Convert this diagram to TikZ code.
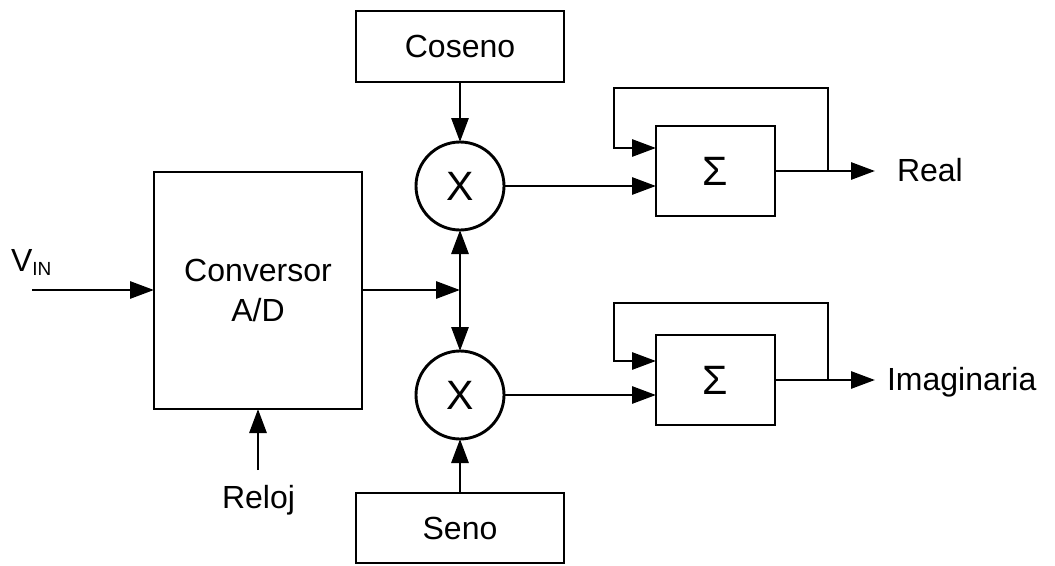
\documentclass[tikz,border=0pt]{standalone}
\usepackage{fontspec}
\setmainfont{Liberation Sans}
\usetikzlibrary{arrows.meta}
\begin{document}
\begin{tikzpicture}[x=1pt, y=-1pt,
  every node/.style={font=\fontsize{32}{40}\selectfont, inner sep=0pt, outer sep=0pt},
  big/.style={font=\fontsize{41}{48}\selectfont},
  blk/.style={draw, line width=2.9pt, rectangle},
  mult/.style={draw, line width=2.9pt, circle, minimum size=88pt, big},
  wire/.style={line width=2.9pt},
  sig/.style={wire, -{Triangle[length=24pt, width=17pt]}},
  dsig/.style={wire, {Triangle[length=24pt, width=17pt]}-{Triangle[length=24pt, width=17pt]}},
  lbl/.style={anchor=base west}]
  \useasboundingbox (0,0) rectangle (1055,565);

  % blocks
  \node[blk, minimum width=208pt, minimum height=71pt] (cos) at (460,46.5) {Coseno};
  \node[blk, minimum width=208pt, minimum height=70pt] (sin) at (460,528) {Seno};
  \node[blk, minimum width=208pt, minimum height=237pt, align=center] (adc) at (258,290.5) {Conversor\\A/D};
  \node[mult] (m1) at (460,186) {X};
  \node[mult] (m2) at (460,395) {X};
  \node[blk, big, minimum width=119pt, minimum height=90pt] (s1) at (715.5,171) {Σ};
  \node[blk, big, minimum width=119pt, minimum height=90pt] (s2) at (715.5,380) {Σ};

  % labels
  \node[lbl] (vin) at (11,271) {V\raisebox{-4pt}{\fontsize{19}{22}\selectfont IN}};
  \node[lbl] (reloj) at (222,508) {Reloj};
  \node[lbl] (real) at (897,181) {Real};
  \node[lbl] (imag) at (887,390) {Imaginaria};

  % free ends and junctions
  \coordinate (vinA) at (32,290);
  \coordinate (rel) at (258,470);
  \coordinate (j) at (460,290);
  \coordinate (o1) at (875,171);
  \coordinate (o2) at (875,380);
  \coordinate (t1) at (828,171);
  \coordinate (t2) at (828,380);

  % input side
  \draw[sig] (vinA) -- (vinA -| adc.west);
  \draw[sig] (rel) -- (adc.south);
  \draw[sig] (adc.east |- j) -- (j);
  \draw[dsig] (m1.south) -- (m2.north);
  \draw[sig] (cos.south) -- (m1.north);
  \draw[sig] (sin.north) -- (m2.south);

  % real branch
  \draw[sig] (m1.east) -- (m1.east -| s1.west);
  \draw[sig] (s1.east) -- (o1);
  \draw[sig] (t1) -- (828,88) -- (614,88) -- (614,148) -- (s1.west |- 0,148);

  % imaginary branch
  \draw[sig] (m2.east) -- (m2.east -| s2.west);
  \draw[sig] (s2.east) -- (o2);
  \draw[sig] (t2) -- (828,303) -- (614,303) -- (614,361) -- (s2.west |- 0,361);
\end{tikzpicture}
\end{document}
